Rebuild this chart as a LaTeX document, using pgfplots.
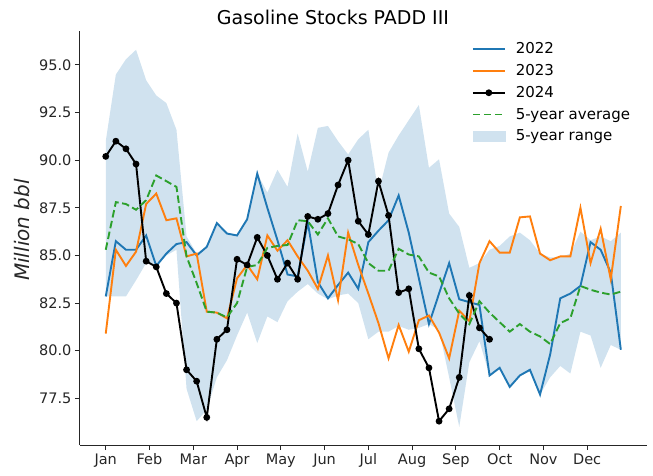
\documentclass[border=0pt]{standalone}
\usepackage{fontspec}
\setmainfont{DejaVu Sans}
\usepackage{pgfplots}
\usepackage{pgfplotstable}
\pgfplotsset{compat=1.18}
\usepgfplotslibrary{fillbetween}
\definecolor{c22}{HTML}{1F77B4}
\definecolor{c23}{HTML}{FF7F0E}
\definecolor{cavg}{HTML}{2CA02C}
\definecolor{rangec}{RGB}{208,226,239}
\definecolor{axc}{HTML}{262626}

\pgfplotstableread{
w y22 y23 avg lo hi
0 82.85 80.9 85.3 82.85 91.0
1 85.75 85.3 87.8 82.85 94.5
2 85.3 84.45 87.7 82.85 95.3
3 85.3 85.2 87.4 83.7 95.8
4 86.05 87.7 87.9 84.6 94.2
5 84.45 88.25 89.2 84.45 93.4
6 85.1 86.85 88.9 85.0 93.0
7 85.6 86.95 88.6 85.3 91.6
8 85.7 84.95 84.95 78.0 86.0
9 85.0 85.1 83.55 76.3 85.1
10 85.45 82.05 82.05 76.9 85.5
11 86.7 82.0 82.0 78.6 86.7
12 86.15 81.7 81.75 79.5 86.2
13 86.05 83.8 82.5 80.8 86.1
14 86.9 84.5 84.4 82.0 86.9
15 89.3 83.75 84.5 80.4 89.3
16 87.5 86.05 85.4 81.8 88.3
17 85.8 85.25 85.5 81.5 89.5
18 84.0 85.8 85.55 82.6 88.6
19 83.9 84.95 86.85 83.1 91.4
20 86.75 84.2 86.8 83.5 89.4
21 83.6 83.25 86.1 83.0 91.7
22 82.75 85.0 86.95 82.7 91.8
23 83.45 82.65 86.0 82.9 91.0
24 84.1 86.2 85.85 83.0 90.3
25 83.25 84.5 85.6 82.5 91.1
26 85.7 83.0 84.6 80.6 91.6
27 86.3 81.45 84.2 81.0 88.3
28 86.85 79.6 84.2 81.0 90.4
29 88.15 81.35 85.35 81.3 91.3
30 86.2 79.95 85.05 81.1 92.1
31 83.8 81.6 84.95 81.2 92.9
32 81.4 81.85 84.1 81.4 89.6
33 83.0 80.95 83.9 81.1 90.05
34 84.6 79.6 82.75 78.6 87.2
35 82.7 82.1 81.95 76.0 86.5
36 82.55 81.55 81.4 79.4 84.35
37 82.4 84.6 82.6 80.5 84.6
38 78.7 85.75 82.0 78.7 85.3
39 79.1 85.15 81.5 79.1 85.5
40 78.1 85.15 81.0 78.1 86.0
41 78.7 87.0 81.4 78.7 86.2
42 79.0 87.05 81.0 78.9 85.8
43 77.7 85.1 80.75 77.7 85.1
44 79.8 84.75 80.35 78.6 84.9
45 82.75 84.95 81.45 79.2 84.9
46 83.0 84.95 81.7 78.8 85.1
47 83.4 87.5 83.4 81.0 86.25
48 85.7 84.6 83.2 80.8 85.8
49 85.3 86.4 83.05 79.1 86.0
50 84.1 83.75 82.95 80.3 85.75
51 80.05 87.6 83.1 80.05 86.2
}\maindata

\pgfplotstableread{
w y24
0 90.2
1 91.0
2 90.6
3 89.8
4 84.7
5 84.4
6 83.0
7 82.5
8 79.0
9 78.4
10 76.5
11 80.6
12 81.1
13 84.8
14 84.5
15 85.95
16 85.0
17 83.75
18 84.6
19 83.75
20 87.05
21 86.9
22 87.2
23 88.7
24 90.0
25 86.8
26 86.1
27 88.9
28 87.1
29 83.05
30 83.25
31 80.1
32 79.1
33 76.3
34 76.95
35 78.6
36 82.9
37 81.2
38 80.6
}\dataxxiv

\begin{document}
\begin{tikzpicture}
\begin{axis}[
  at={(0pt,0pt)}, anchor=south west,
  width=566.6pt, height=414.3pt, scale only axis,
  xmin=-2.55, xmax=53.55, ymin=75.05, ymax=96.8,
  axis x line*=bottom, axis y line*=left,
  axis line style={line width=1pt, color=axc, -},
  tick align=outside, major tick length=5pt,
  every tick/.style={axc, line width=1pt},
  xtick={0,4.3333,8.6667,13,17.3333,21.6667,26,30.3333,34.6667,39,43.3333,47.6667},
  xticklabels={Jan,Feb,Mar,Apr,May,Jun,Jul,Aug,Sep,Oct,Nov,Dec},
  ytick={77.5,80,82.5,85,87.5,90,92.5,95},
  yticklabel style={/pgf/number format/fixed, /pgf/number format/fixed zerofill, /pgf/number format/precision=1},
  /pgf/number format/assume math mode=true,
  tick label style={font=\fontsize{14.5}{17}\selectfont, color=axc},
  legend style={at={(0.686,0.981)}, anchor=north west, draw=none, fill=none,
    font=\fontsize{15}{17}\selectfont, row sep=5.2pt, cells={anchor=west}, text=black,
    /tikz/every odd column/.append style={column sep=8pt}},
  legend image code/.code={\draw[mark repeat=2,mark phase=2,#1] plot coordinates {(0pt,0pt) (16pt,0pt) (32pt,0pt)};},
]
\addplot[name path=hi, draw=none, forget plot] table[x=w, y=hi] {\maindata};
\addplot[name path=lo, draw=none, forget plot] table[x=w, y=lo] {\maindata};
\addplot[rangec, forget plot] fill between[of=hi and lo];
\addplot[c22, line width=1.9pt] table[x=w, y=y22] {\maindata};
\addlegendentry{2022}
\addplot[c23, line width=1.9pt] table[x=w, y=y23] {\maindata};
\addlegendentry{2023}
\addplot[black, line width=1.9pt, mark=*, mark size=2.4pt] table[x=w, y=y24] {\dataxxiv};
\addlegendentry{2024}
\addplot[cavg, line width=1.9pt, dash pattern=on 7.5pt off 3.5pt] table[x=w, y=avg] {\maindata};
\addlegendentry{5-year average}
\addlegendimage{legend image code/.code={\fill[rangec] (0pt,-5pt) rectangle (32pt,5pt);}}
\addlegendentry{5-year range}
\end{axis}
\node[anchor=base, font=\fontsize{19}{22}\selectfont, text=black] at (253pt,420pt) {Gasoline Stocks PADD III};
\node[rotate=90, font=\fontsize{20}{24}\selectfont\itshape, text=axc] at (-58pt,215pt) {Million bbl};
\path[use as bounding box] (-80pt,-30pt) rectangle (573pt,445pt);
\end{tikzpicture}
\end{document}
